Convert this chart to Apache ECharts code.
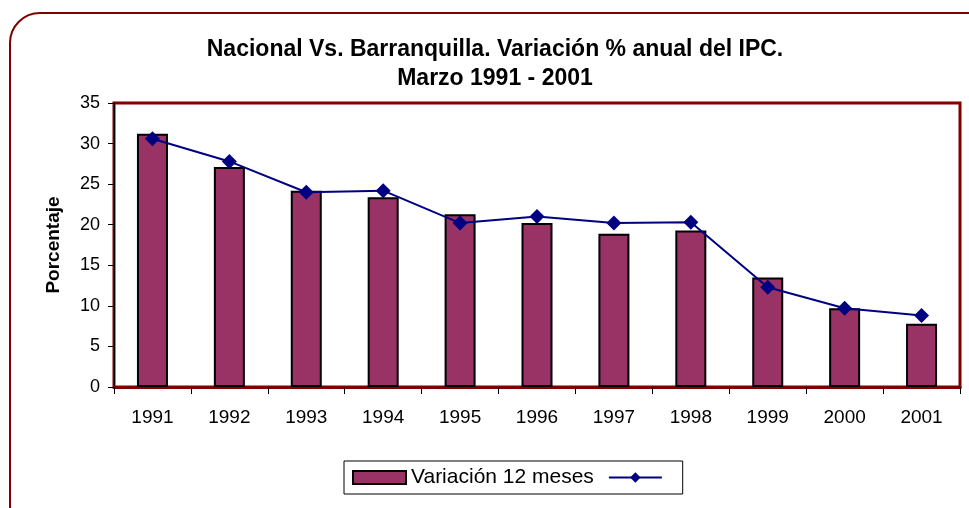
<!DOCTYPE html>
<html>
<head>
<meta charset="utf-8">
<script src="https://cdn.jsdelivr.net/npm/echarts@6/dist/echarts.min.js"></script>
<style>
  html, body { margin: 0; padding: 0; background: #fff; }
  #grafico { width: 969px; height: 508px; }
</style>
</head>
<body>
<div id="grafico"></div>
<script>
// datos
var anios = ['1991', '1992', '1993', '1994', '1995', '1996', '1997', '1998', '1999', '2000', '2001'];
var variacion12 = [31.2, 27.1, 24.2, 23.4, 21.3, 20.2, 18.9, 19.3, 13.5, 9.7, 7.8];
var barranquilla = [30.6, 27.8, 24.0, 24.2, 20.2, 21.0, 20.2, 20.3, 12.3, 9.7, 8.8];

function grafico() {
  var chart = document.getElementById('grafico');
  var myChart = echarts.init(chart);
  var option = {
    backgroundColor: '#fff',
    animation: false,
    title: {
      text: 'Nacional Vs. Barranquilla. Variación % anual del IPC.\nMarzo 1991 - 2001',
      left: 490,
      textAlign: 'center',
      top: 30,
      textStyle: {
        fontFamily: 'Liberation Sans, Arial',
        fontSize: 23,
        fontWeight: 'bold',
        color: '#000',
        lineHeight: 29
      }
    },
    graphic: [
      {
        type: 'rect',
        shape: { x: 10, y: 13, width: 1000, height: 600, r: 30 },
        style: { fill: 'none', stroke: '#800000', lineWidth: 2 },
        silent: true
      }
    ],
    legend: {
      left: 344,
      top: 461,
      padding: [6, 10, 6, 8],
      itemGap: 14,
      itemWidth: 53,
      itemHeight: 13,
      borderColor: '#000',
      borderWidth: 1,
      textStyle: { fontFamily: 'Liberation Sans, Arial', fontSize: 21, color: '#000' },
      data: [{ name: 'Variación 12 meses', icon: 'rect' }, ' ']
    },
    grid: {
      left: 114,
      top: 103,
      right: 9,
      bottom: 121,
      show: true,
      borderColor: '#800000',
      borderWidth: 3,
      backgroundColor: '#fff'
    },
    xAxis: {
      type: 'category',
      data: anios,
      boundaryGap: true,
      axisLine: { lineStyle: { color: '#800000', width: 3 } },
      axisTick: { show: true, length: 7, lineStyle: { color: '#000' } },
      axisLabel: { fontFamily: 'Liberation Sans, Arial', fontSize: 19, color: '#000', margin: 21 }
    },
    yAxis: {
      type: 'value',
      min: 0,
      max: 35,
      interval: 5,
      name: 'Porcentaje',
      nameLocation: 'middle',
      nameGap: 51,
      nameTextStyle: { fontFamily: 'Liberation Sans, Arial', fontSize: 19, fontWeight: 'bold', color: '#000' },
      splitLine: { show: false },
      axisLine: { show: true, lineStyle: { color: '#000', width: 1 } },
      axisTick: { show: true, length: 6, lineStyle: { color: '#000' } },
      axisLabel: { fontFamily: 'Liberation Sans, Arial', fontSize: 18, color: '#000', margin: 14 }
    },
    series: [
      {
        name: 'Variación 12 meses',
        type: 'bar',
        data: variacion12,
        barWidth: 31,
        itemStyle: { color: '#993366', borderColor: '#000', borderWidth: 2 }
      },
      {
        name: ' ',
        type: 'line',
        data: barranquilla,
        symbol: 'diamond',
        symbolSize: 15,
        lineStyle: { color: '#000080', width: 2 },
        itemStyle: { color: '#000080' }
      }
    ]
  };
  myChart.setOption(option);
}
grafico();
</script>
</body>
</html>
